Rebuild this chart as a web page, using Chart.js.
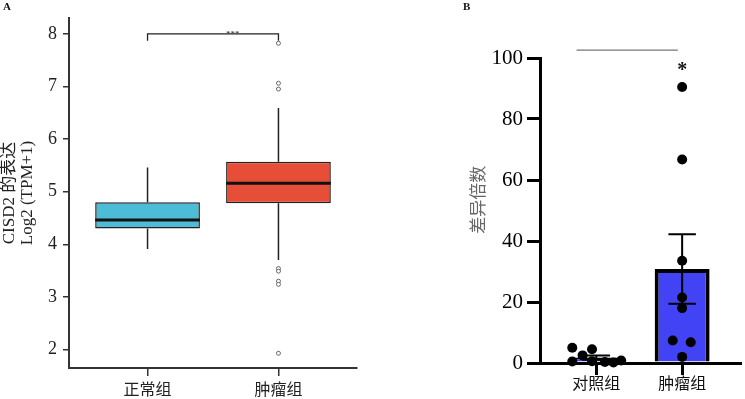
<!DOCTYPE html>
<html><head><meta charset="utf-8">
<script src="https://cdn.jsdelivr.net/npm/chart.js@4/dist/chart.umd.min.js"></script>
<style>
html,body{margin:0;padding:0;background:#fff;}
body{width:745px;height:399px;position:relative;overflow:hidden;}
#ca{position:absolute;left:0;top:0;}
#cb{position:absolute;left:440px;top:0;}
</style></head>
<body>
<canvas id="ca" width="380" height="399"></canvas>
<canvas id="cb" width="305" height="399"></canvas>
<script>
// ---------- Panel A data (boxplot) ----------
const groupsA = ['正常组', '肿瘤组'];
const boxMin = [3.91, 3.70];
const boxQ1 = [4.30, 4.78];
const boxMedian = [4.46, 5.16];
const boxQ3 = [4.80, 5.57];
const boxMax = [5.46, 6.59];
const outliersTumor = [7.82, 7.06, 6.95, 3.54, 3.49, 3.30, 3.24, 1.93];
const yTicksA = [2, 3, 4, 5, 6, 7, 8];
const sigLevelA = 8.0;
const sigTextA = '***';

// ---------- Panel B data (bar + dots) ----------
const groupsB = ['对照组', '肿瘤组'];
const meanB = [1.8, 30.8];
const semB = [0.7, 11.4];
const controlPoints = [5.0, 0.5, 2.5, 4.5, 0.6, 0.3, 0.2, 0.8];
const tumorPoints = [90.5, 66.7, 33.5, 21.5, 18.0, 7.4, 6.8, 2.0];
const yTicksB = [0, 20, 40, 60, 80, 100];
const sigLevelB = 102.6;
const sigTextB = '*';
const yTitleB = '差异倍数';

// ---------- helpers ----------
const SERIF = "'Liberation Serif', 'Noto Sans CJK SC', serif";
const CJK = "'Noto Sans CJK SC', sans-serif";

const jitterControl = [-0.28, -0.28, -0.16, -0.05, -0.05, 0.1, 0.2, 0.29];
const jitterTumor = [0, 0, 0, 0, 0, -0.11, 0.1, 0];
const BOX_HALF = 0.4;

const whiskerData = [];
groupsA.forEach((g, i) => {
  const x = i + 1;
  whiskerData.push({x, y: boxQ3[i]}, {x, y: boxMax[i]}, {x, y: null});
  whiskerData.push({x, y: boxMin[i]}, {x, y: boxQ1[i]}, {x, y: null});
});
const medianData = [];
groupsA.forEach((g, i) => {
  const x = i + 1;
  medianData.push({x: x - BOX_HALF, y: boxMedian[i]}, {x: x + BOX_HALF, y: boxMedian[i]}, {x, y: null});
});
const bracketA = [
  {x: 1, y: sigLevelA - 0.13}, {x: 1, y: sigLevelA},
  {x: 2, y: sigLevelA}, {x: 2, y: sigLevelA - 0.13}
];

const textPluginA = {
  id: 'txtA',
  afterDraw(chart) {
    const ctx = chart.ctx;
    const xs = chart.scales.x, ys = chart.scales.y;
    ctx.save();
    ctx.fillStyle = '#111';
    ctx.font = "bold 11px " + SERIF;
    ctx.textAlign = 'left';
    ctx.textBaseline = 'top';
    ctx.fillText('A', 3, 2);
    ctx.fillStyle = '#555';
    ctx.font = "bold 9px " + SERIF;
    ctx.textAlign = 'center';
    ctx.textBaseline = 'middle';
    ctx.fillText(sigTextA, xs.getPixelForValue(1.65), ys.getPixelForValue(sigLevelA) + 0.5);
    ctx.restore();
  }
};

new Chart(document.getElementById('ca'), {
  type: 'bar',
  data: {
    datasets: [
      {
        type: 'line', data: medianData, borderColor: '#111', borderWidth: 3,
        pointRadius: 0, spanGaps: false, order: 0
      },
      {
        type: 'line', data: outliersTumor.map(v => ({x: 2, y: v})), showLine: false,
        pointRadius: 2, pointBorderWidth: 1, pointBorderColor: '#666',
        pointBackgroundColor: '#fff', order: 1
      },
      {
        type: 'line', data: bracketA, borderColor: '#222', borderWidth: 1.3,
        pointRadius: 0, order: 1
      },
      {
        type: 'bar',
        data: groupsA.map((g, i) => ({x: i + 1, y: [boxQ1[i], boxQ3[i]]})),
        backgroundColor: ['#4dbcd7', '#e74e37'],
        borderColor: '#222', borderWidth: 1.5, borderSkipped: false,
        barPercentage: 0.8, categoryPercentage: 1, order: 5
      },
      {
        type: 'line', data: whiskerData, borderColor: '#222', borderWidth: 1.5,
        pointRadius: 0, spanGaps: false, order: 6
      }
    ]
  },
  options: {
    responsive: false, animation: false,
    layout: {padding: {top: 18, right: 23, left: 0, bottom: 0}},
    plugins: {legend: {display: false}, tooltip: {enabled: false}},
    scales: {
      x: {
        type: 'linear', min: 0.4, max: 2.6, offset: false,
        afterBuildTicks: s => { s.ticks = groupsA.map((g, i) => ({value: i + 1})); },
        ticks: {
          callback: (v, i) => groupsA[i], font: {family: CJK, size: 16}, color: '#222',
          padding: 3, maxRotation: 0, autoSkip: false
        },
        grid: {drawOnChartArea: false, drawTicks: true, tickLength: 8, color: '#333', lineWidth: 1.5, offset: false},
        border: {display: true, color: '#333', width: 2},
        afterFit: s => { s.height = 31; }
      },
      y: {
        type: 'linear', min: 1.65, max: 8.3,
        afterBuildTicks: s => { s.ticks = yTicksA.map(v => ({value: v})); },
        ticks: {font: {family: SERIF, size: 18}, color: '#222', padding: 6},
        grid: {drawOnChartArea: false, drawTicks: true, tickLength: 6, color: '#333', lineWidth: 1.5},
        border: {display: true, color: '#333', width: 2},
        title: {
          display: true, text: ['CISD2 的表达', 'Log2 (TPM+1)'],
          font: {family: SERIF, size: 17, lineHeight: 18 / 17}, color: '#222',
          padding: {top: 1, bottom: 0}
        },
        afterFit: s => { s.width = 69; }
      }
    }
  },
  plugins: [textPluginA]
});

// ---------- Panel B ----------
const errData = [];
groupsB.forEach((g, i) => {
  const lo = meanB[i] - semB[i], hi = meanB[i] + semB[i];
  errData.push({x: i, y: lo}, {x: i, y: hi}, {x: i, y: null});
  errData.push({x: i - 0.16, y: hi}, {x: i + 0.16, y: hi}, {x: i, y: null});
  errData.push({x: i - 0.16, y: lo}, {x: i + 0.16, y: lo}, {x: i, y: null});
});
const dotData = [];
controlPoints.forEach((v, k) => dotData.push({x: 0 + jitterControl[k], y: v}));
tumorPoints.forEach((v, k) => dotData.push({x: 1 + jitterTumor[k], y: v}));
const sigLineB = [{x: -0.23, y: sigLevelB}, {x: 0.95, y: sigLevelB}];

const textPluginB = {
  id: 'txtB',
  afterDraw(chart) {
    const ctx = chart.ctx;
    const xs = chart.scales.x, ys = chart.scales.y;
    ctx.save();
    ctx.fillStyle = '#111';
    ctx.font = "bold 11px " + SERIF;
    ctx.textAlign = 'left';
    ctx.textBaseline = 'top';
    ctx.fillText('B', 23, 2);
    ctx.font = "bold 20px " + SERIF;
    ctx.textAlign = 'center';
    ctx.textBaseline = 'alphabetic';
    ctx.fillText(sigTextB, xs.getPixelForValue(1), ys.getPixelForValue(94));
    ctx.fillStyle = '#666';
    ctx.font = "17px " + CJK;
    ctx.textBaseline = 'middle';
    ctx.translate(38, ys.getPixelForValue(53.5));
    ctx.rotate(-Math.PI / 2);
    ctx.fillText(yTitleB, 0, 0);
    ctx.restore();
  }
};

new Chart(document.getElementById('cb'), {
  type: 'bar',
  data: {
    datasets: [
      {
        type: 'line', data: dotData, showLine: false, pointRadius: 5,
        pointBackgroundColor: '#000', pointBorderColor: '#000', pointBorderWidth: 0,
        clip: false, order: 0
      },
      {
        type: 'line', data: errData, borderColor: '#000', borderWidth: 2,
        pointRadius: 0, spanGaps: false, clip: false, order: 1
      },
      {
        type: 'line', data: sigLineB, borderColor: '#777', borderWidth: 1.3,
        pointRadius: 0, clip: false, order: 1
      },
      {
        type: 'bar', data: groupsB.map((g, i) => ({x: i, y: meanB[i]})),
        backgroundColor: '#4343f6', borderColor: '#000', borderWidth: 4,
        borderSkipped: 'start', barPercentage: 0.64, categoryPercentage: 1, order: 3
      }
    ]
  },
  options: {
    responsive: false, animation: false,
    layout: {padding: {top: 58, right: 0, left: 0, bottom: 0}},
    plugins: {legend: {display: false}, tooltip: {enabled: false}},
    scales: {
      x: {
        type: 'linear', min: -0.656, max: 1.674, offset: false,
        afterBuildTicks: s => { s.ticks = groupsB.map((g, i) => ({value: i})); },
        ticks: {
          callback: (v, i) => groupsB[i], font: {family: CJK, size: 16}, color: '#111',
          padding: -2, maxRotation: 0, autoSkip: false
        },
        grid: {drawOnChartArea: false, drawTicks: true, tickLength: 12, color: '#000', lineWidth: 3, offset: false},
        border: {display: true, color: '#000', width: 3},
        afterFit: s => { s.height = 36; }
      },
      y: {
        type: 'linear', min: 0, max: 100,
        afterBuildTicks: s => { s.ticks = yTicksB.map(v => ({value: v})); },
        ticks: {font: {family: SERIF, size: 21}, color: '#000', padding: 4},
        grid: {drawOnChartArea: false, drawTicks: true, tickLength: 13, color: '#000', lineWidth: 3},
        border: {display: true, color: '#000', width: 3},
        afterFit: s => { s.width = 100; }
      }
    }
  },
  plugins: [textPluginB]
});
</script>
</body></html>
